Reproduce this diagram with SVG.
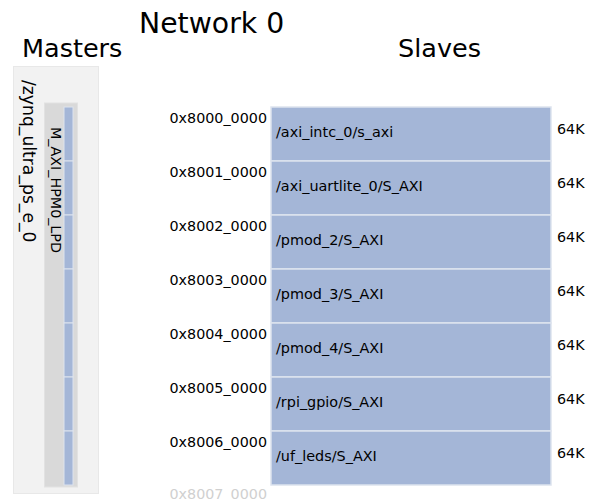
<svg xmlns="http://www.w3.org/2000/svg" width="607" height="500" viewBox="0 0 607 500">
<style>
text{font-family:"DejaVu Sans","Liberation Sans",sans-serif;fill:#000}
.title{font-size:28.3px}
.head{font-size:25.5px}
.addr{font-size:14.3px;text-anchor:end}
.lbl{font-size:14.4px}
.size{font-size:14.3px}
.slv{fill:#a4b6d7;stroke:#dde3ee;stroke-width:1.5}
.seg{fill:#a4b6d7;stroke:#dde3ee;stroke-width:1}
</style>
<rect width="607" height="500" fill="#fff"/>
<text class="title" x="139" y="33">Network 0</text>
<text class="head" x="22" y="57">Masters</text>
<text class="head" x="398" y="57">Slaves</text>
<g id="master">
<rect x="13.5" y="66.5" width="85" height="427" fill="#f2f2f2" stroke="#e8e8e8"/>
<text x="22.5" y="80" font-size="17.2" transform="rotate(90 22.5 80)">/zynq_ultra_ps_e_0</text>
<g id="port">
<rect x="44.5" y="103" width="33" height="384" fill="#d9d9d9" stroke="#e2e2e2"/>
<text x="50.5" y="127" font-size="14.3" transform="rotate(90 50.5 127)">M_AXI_HPM0_LPD</text>
<rect class="seg" x="64" y="107" width="9" height="54"/>
<rect class="seg" x="64" y="161" width="9" height="54"/>
<rect class="seg" x="64" y="215" width="9" height="54"/>
<rect class="seg" x="64" y="269" width="9" height="54"/>
<rect class="seg" x="64" y="323" width="9" height="54"/>
<rect class="seg" x="64" y="377" width="9" height="54"/>
<rect class="seg" x="64" y="431" width="9" height="54"/>
</g>
</g>
<g id="connectors"/>
<g id="s0"><rect class="slv" x="271" y="107" width="280" height="54"/><text class="addr" x="267" y="123">0x8000_0000</text><text class="lbl" x="276" y="137">/axi_intc_0/s_axi</text><text class="size" x="557" y="134">64K</text></g>
<g id="s1"><rect class="slv" x="271" y="161" width="280" height="54"/><text class="addr" x="267" y="177">0x8001_0000</text><text class="lbl" x="276" y="191">/axi_uartlite_0/S_AXI</text><text class="size" x="557" y="188">64K</text></g>
<g id="s2"><rect class="slv" x="271" y="215" width="280" height="54"/><text class="addr" x="267" y="231">0x8002_0000</text><text class="lbl" x="276" y="245">/pmod_2/S_AXI</text><text class="size" x="557" y="242">64K</text></g>
<g id="s3"><rect class="slv" x="271" y="269" width="280" height="54"/><text class="addr" x="267" y="285">0x8003_0000</text><text class="lbl" x="276" y="299">/pmod_3/S_AXI</text><text class="size" x="557" y="296">64K</text></g>
<g id="s4"><rect class="slv" x="271" y="323" width="280" height="54"/><text class="addr" x="267" y="339">0x8004_0000</text><text class="lbl" x="276" y="353">/pmod_4/S_AXI</text><text class="size" x="557" y="350">64K</text></g>
<g id="s5"><rect class="slv" x="271" y="377" width="280" height="54"/><text class="addr" x="267" y="393">0x8005_0000</text><text class="lbl" x="276" y="407">/rpi_gpio/S_AXI</text><text class="size" x="557" y="404">64K</text></g>
<g id="s6"><rect class="slv" x="271" y="431" width="280" height="54"/><text class="addr" x="267" y="447">0x8006_0000</text><text class="lbl" x="276" y="461">/uf_leds/S_AXI</text><text class="size" x="557" y="458">64K</text></g>
<text class="addr" x="267" y="498.5" style="fill:#d0d0d0">0x8007_0000</text>
</svg>
